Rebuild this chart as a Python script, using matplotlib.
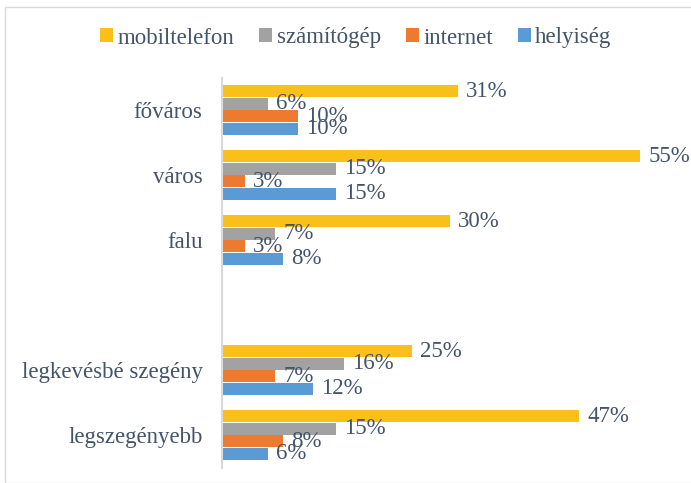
import numpy as np
import matplotlib
matplotlib.use("Agg")
import matplotlib.pyplot as plt
from matplotlib.patches import Rectangle

plt.rcParams['font.family'] = ['Liberation Serif', 'DejaVu Serif']

# === Data ===
categories = ["főváros", "város", "falu", "", "legkevésbé szegény", "legszegényebb"]
series_names = ["mobiltelefon", "számítógép", "internet", "helyiség"]
mobiltelefon = [31, 55, 30, None, 25, 47]
szamitogep = [6, 15, 7, None, 16, 15]
internet = [10, 3, 3, None, 7, 8]
helyiseg = [10, 15, 8, None, 12, 6]
series_values = [mobiltelefon, szamitogep, internet, helyiseg]

colors = ["#F9C01A", "#A2A2A2", "#EE7A30", "#5B9BD5"]
text_color = "#44546A"

fig = plt.figure(figsize=(6.91, 4.83), dpi=100)
ax = fig.add_axes([222 / 691, 1 - 467.5 / 483, (678 - 222) / 691, (467.5 - 77.5) / 483])

y = np.arange(len(categories))
offsets = [-0.29, -0.097, 0.097, 0.29]
bar_h = 0.18

for vals, name, col, off in zip(series_values, series_names, colors, offsets):
    ys = [yi + off for yi, v in zip(y, vals) if v is not None]
    xs = [v for v in vals if v is not None]
    ax.barh(ys, xs, height=bar_h, color=col, label=name)
    for yy, xx in zip(ys, xs):
        ax.annotate(f"{xx}%", (xx, yy), xytext=(6, 0), textcoords="offset points",
                    va="center", ha="left", fontsize=16.5, color=text_color)

ax.set_ylim(len(categories) - 0.5, -0.5)
ax.set_xlim(0, 60)
ax.set_yticks(y)
ax.set_yticklabels(categories, fontsize=16.5, color=text_color)
ax.tick_params(axis="y", length=0, pad=14)
ax.set_xticks([])
for s in ["top", "right", "bottom"]:
    ax.spines[s].set_visible(False)
ax.spines["left"].set_color("#D9D9D9")
ax.spines["left"].set_linewidth(1.5)

leg = fig.legend(loc="center", bbox_to_anchor=(0.515, 1 - 38 / 483), ncol=4, frameon=False,
                 fontsize=16.5, handlelength=0.55, handleheight=0.55, handletextpad=0.2,
                 columnspacing=1.1)
for t in leg.get_texts():
    t.set_color(text_color)

fig.patches.append(Rectangle((5 / 691, 0), 1, 1 - 7 / 483, transform=fig.transFigure,
                             fill=False, edgecolor="#D9D9D9", linewidth=1))

fig.savefig("out.png", dpi=100)
